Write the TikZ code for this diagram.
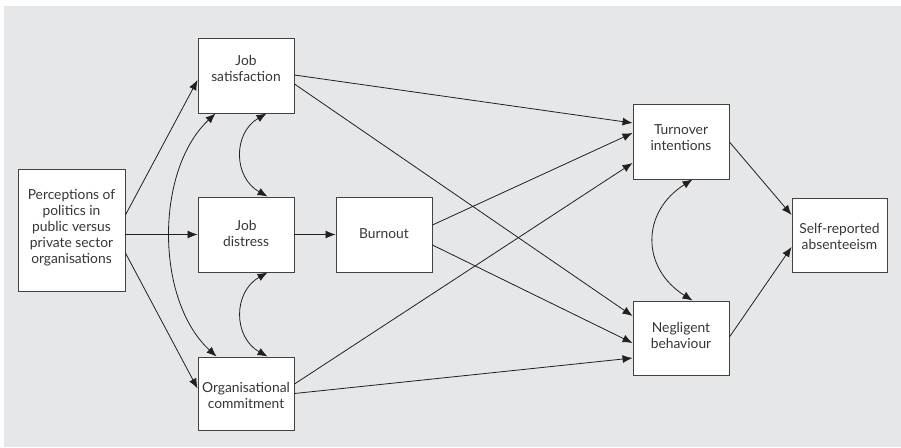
\documentclass[tikz,border=0pt]{standalone}
\usepackage{fontspec}
\setmainfont{Lato}
\usetikzlibrary{arrows.meta,calc}
\definecolor{bgc}{HTML}{E6E7E9}
\definecolor{ink}{HTML}{231F20}
\begin{document}
\begin{tikzpicture}[x=1pt,y=-1pt,
  box/.style={draw=ink!85,line width=0.9pt,fill=white,inner sep=0pt},
  lbl/.style={align=center,font=\fontsize{13.8}{16}\selectfont,text=ink!90,inner sep=0pt},
  arr/.style={draw=ink,line width=0.8pt,-{Latex[length=10pt,width=8pt]}},
  darr/.style={draw=ink,line width=0.8pt,{Latex[length=10pt,width=8pt]}-{Latex[length=10pt,width=8pt]}}]
\useasboundingbox (0,0) rectangle (901,447);
\fill[bgc] (4,6) rectangle (901,447);
% boxes
\node[box,minimum width=107pt,minimum height=122pt] (perc) at (71.5,230) {};
\node[box,minimum width=96pt,minimum height=75pt] (jobsat) at (246,75.5) {};
\node[box,minimum width=96pt,minimum height=75pt] (jobdis) at (246,234.5) {};
\node[box,minimum width=96pt,minimum height=73pt] (org) at (246,393.5) {};
\node[box,minimum width=96pt,minimum height=75pt] (burn) at (384,234.5) {};
\node[box,minimum width=96pt,minimum height=75pt] (turn) at (681,141.5) {};
\node[box,minimum width=96pt,minimum height=74pt] (negl) at (681,338) {};
\node[box,minimum width=95pt,minimum height=74pt] (self) at (839.5,235) {};
% labels
\node[lbl] (tperc) at (71.5,228) {Perceptions of\\politics in\\public versus\\private sector\\organisations};
\node[lbl] (tjobsat) at (246,68) {Job\\satisfaction};
\node[lbl] (tjobdis) at (246,233) {Job\\distress};
\node[lbl] (torg) at (246,395) {Organisational\\commitment};
\node[lbl] (tburn) at (384,234) {Burnout};
\node[lbl] (tturn) at (681,138) {Turnover\\intentions};
\node[lbl] (tnegl) at (681,335.5) {Negligent\\behaviour};
\node[lbl] (tself) at (839.5,236.5) {Self-reported\\absenteeism};
% straight arrows
\draw[arr] ($(perc.east)+(0,-15)$) -- ($(jobsat.west)+(0,4.5)$);
\draw[arr] (perc.east |- jobdis.west) -- (jobdis.west);
\draw[arr] ($(perc.east)+(0,23)$) -- ($(org.west)+(0,-5)$);
\draw[arr] ($(jobsat.east)+(0,-0.5)$) -- ($(turn.west)+(0,-18.5)$);
\draw[arr] ($(jobsat.east)+(0,8.5)$) -- ($(negl.west)+(0,-22)$);
\draw[arr] (jobdis.east) -- (burn.west);
\draw[arr] ($(burn.east)+(0,-9.5)$) -- ($(turn.west)+(0,-8.5)$);
\draw[arr] ($(burn.east)+(0,10.5)$) -- ($(negl.west)+(0,5)$);
\draw[arr] ($(org.east)+(0,-9.5)$) -- ($(turn.west)+(0,21.5)$);
\draw[arr] ($(org.east)+(0,0)$) -- ($(negl.west)+(0,20)$);
\draw[arr] ($(turn.east)+(0,0.5)$) -- ($(self.west)+(0,-20)$);
\draw[arr] ($(negl.east)+(0,-1)$) -- ($(self.west)+(0,12)$);
% curved double arrows
\draw[darr] ($(jobsat.south west)+(18,0)$) .. controls (155,170) and (155,300) .. ($(org.north west)+(19,0)$);
\draw[darr] ($(jobsat.south west)+(69,0)$) .. controls (233,133) and (233,177) .. ($(jobdis.north west)+(70,0)$);
\draw[darr] ($(jobdis.south west)+(70,0)$) .. controls (233,292) and (233,337) .. ($(org.north west)+(70,0)$);
\draw[darr] ($(turn.south west)+(60,0)$) .. controls (641,212) and (641,268) .. ($(negl.north west)+(60,0)$);
\end{tikzpicture}
\end{document}
